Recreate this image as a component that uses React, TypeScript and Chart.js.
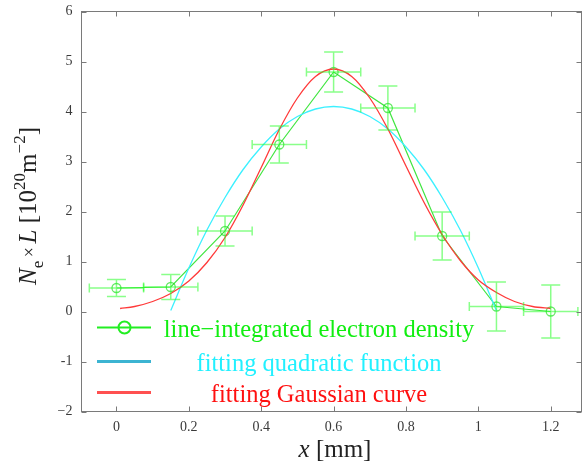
import React, { useEffect, useRef } from "react";
import { Chart, registerables } from "chart.js";
Chart.register(...registerables);

// measured data (line-integrated electron density)
const xData = [0, 0.15, 0.3, 0.45, 0.6, 0.75, 0.9, 1.05, 1.2];
const yData = [0.47, 0.49, 1.61, 3.34, 4.79, 4.07, 1.51, 0.1, 0.0];
const yErr = [0.17, 0.25, 0.3, 0.37, 0.4, 0.44, 0.48, 0.49, 0.53];
const xErr = [0.075, 0.075, 0.075, 0.075, 0.075, 0.075, 0.075, 0.075, 0.075];

// fitting quadratic function
const quadX = [0.15, 0.2, 0.25, 0.3, 0.35, 0.4, 0.45, 0.5, 0.55, 0.6, 0.65, 0.7, 0.75, 0.8, 0.85, 0.9, 0.95, 1.0, 1.05];
const quadY = [0.02, 0.87, 1.63, 2.28, 2.84, 3.29, 3.65, 3.9, 4.05, 4.1, 4.05, 3.9, 3.65, 3.29, 2.84, 2.28, 1.63, 0.87, 0.02];

// fitting Gaussian curve
const gaussX = [0.01, 0.05, 0.1, 0.15, 0.2, 0.25, 0.3, 0.35, 0.4, 0.45, 0.5, 0.55, 0.6, 0.65, 0.7, 0.75, 0.8, 0.85, 0.9, 0.95, 1.0, 1.05, 1.1, 1.15, 1.2];
const gaussY = [0.06, 0.1, 0.2, 0.36, 0.61, 0.98, 1.48, 2.13, 2.88, 3.64, 4.27, 4.7, 4.85, 4.7, 4.27, 3.65, 2.91, 2.18, 1.54, 1.02, 0.63, 0.38, 0.2, 0.1, 0.06];

const xTicks = [0, 0.2, 0.4, 0.6, 0.8, 1, 1.2];
const xTickLabels = ["0", "0.2", "0.4", "0.6", "0.8", "1", "1.2"];
const yTicks = [-2, -1, 0, 1, 2, 3, 4, 5, 6];
const yTickLabels = ["\u22122", "-1", "0", "1", "2", "3", "4", "5", "6"];

const legendLabels = ["line\u2212integrated electron density", "fitting quadratic function", "fitting Gaussian curve"];

const SERIF = "'Liberation Serif', 'Times New Roman', serif";

type Seg = { t: string; f: string; dy: number };
function drawRich(ctx: CanvasRenderingContext2D, segs: Seg[], cx: number, cy: number) {
  let w = 0;
  for (const s of segs) {
    ctx.font = s.f;
    w += ctx.measureText(s.t).width;
  }
  let x = cx - w / 2;
  for (const s of segs) {
    ctx.font = s.f;
    ctx.fillText(s.t, x, cy + s.dy);
    x += ctx.measureText(s.t).width;
  }
}

const decorPlugin = {
  id: "decor",
  afterDatasetsDraw(chart: any) {
    const { ctx, scales } = chart;
    const xs = scales.x;
    const ys = scales.y;
    ctx.save();
    ctx.strokeStyle = "rgba(40,255,40,0.55)";
    ctx.lineWidth = 1.5;
    for (let i = 0; i < xData.length; i++) {
      const px = xs.getPixelForValue(xData[i]);
      const py = ys.getPixelForValue(yData[i]);
      const top = ys.getPixelForValue(yData[i] + yErr[i]);
      const bot = ys.getPixelForValue(yData[i] - yErr[i]);
      const l = xs.getPixelForValue(xData[i] - xErr[i]);
      const r = xs.getPixelForValue(xData[i] + xErr[i]);
      ctx.beginPath();
      ctx.moveTo(px, top); ctx.lineTo(px, bot);
      ctx.moveTo(px - 9.5, top); ctx.lineTo(px + 9.5, top);
      ctx.moveTo(px - 9.5, bot); ctx.lineTo(px + 9.5, bot);
      ctx.moveTo(l, py); ctx.lineTo(r, py);
      ctx.moveTo(l, py - 4.5); ctx.lineTo(l, py + 4.5);
      ctx.moveTo(r, py - 4.5); ctx.lineTo(r, py + 4.5);
      ctx.stroke();
    }
    ctx.restore();
  },
  afterDraw(chart: any) {
    const { ctx, chartArea: a, scales } = chart;
    const xs = scales.x;
    const ys = scales.y;
    ctx.save();
    // frame
    ctx.strokeStyle = "#7a7a7a";
    ctx.lineWidth = 1;
    ctx.strokeRect(a.left, a.top, a.right - a.left, a.bottom - a.top);
    ctx.beginPath();
    for (const v of xTicks) {
      const p = Math.round(xs.getPixelForValue(v)) + 0.5;
      ctx.moveTo(p, a.bottom); ctx.lineTo(p, a.bottom - 5);
      ctx.moveTo(p, a.top); ctx.lineTo(p, a.top + 5);
    }
    for (const v of yTicks) {
      const p = Math.round(ys.getPixelForValue(v)) + 0.5;
      ctx.moveTo(a.left, p); ctx.lineTo(a.left + 5, p);
      ctx.moveTo(a.right, p); ctx.lineTo(a.right - 5, p);
    }
    ctx.stroke();

    // legend
    const lx0 = 97, lx1 = 151;
    const rows = [327.5, 361.5, 392.5];
    const lineCols = ["#22ee22", "#3cb4d2", "#ff5050"];
    const txtCols = ["#11ee11", "#22f0ff", "#ff1010"];
    for (let i = 0; i < 3; i++) {
      ctx.strokeStyle = lineCols[i];
      ctx.lineWidth = i === 0 ? 2 : 3;
      ctx.beginPath();
      ctx.moveTo(lx0, rows[i]); ctx.lineTo(lx1, rows[i]);
      ctx.stroke();
      if (i === 0) {
        ctx.beginPath();
        ctx.arc(124.5, rows[i], 6, 0, Math.PI * 2);
        ctx.stroke();
      }
      ctx.fillStyle = txtCols[i];
      ctx.font = `24.5px ${SERIF}`;
      ctx.textAlign = "center";
      ctx.textBaseline = "alphabetic";
      ctx.fillText(legendLabels[i], 319, rows[i] + 9);
    }

    // axis titles
    ctx.fillStyle = "#222";
    ctx.textAlign = "left";
    ctx.textBaseline = "alphabetic";
    drawRich(ctx, [
      { t: "x", f: `italic 25px ${SERIF}`, dy: 0 },
      { t: " [mm]", f: `25px ${SERIF}`, dy: 0 },
    ], 335, 457);

    ctx.translate(36, 206);
    ctx.rotate(-Math.PI / 2);
    drawRich(ctx, [
      { t: "N", f: `italic 25px ${SERIF}`, dy: 0 },
      { t: "e", f: `17px ${SERIF}`, dy: 7 },
      { t: "\u2009\u00d7\u2009", f: `18px ${SERIF}`, dy: -1 },
      { t: "L", f: `italic 25px ${SERIF}`, dy: 0 },
      { t: " [10", f: `25px ${SERIF}`, dy: 0 },
      { t: "20", f: `17px ${SERIF}`, dy: -11 },
      { t: "m", f: `25px ${SERIF}`, dy: 0 },
      { t: "\u22122", f: `17px ${SERIF}`, dy: -11 },
      { t: "]", f: `25px ${SERIF}`, dy: 0 },
    ], 0, 0);
    ctx.restore();
  },
};

export default function App() {
  const ref = useRef<HTMLCanvasElement>(null);
  useEffect(() => {
    document.body.style.margin = "0";
    document.body.style.overflow = "hidden";
    const chart = new Chart(ref.current as HTMLCanvasElement, {
      type: "line",
      data: {
        datasets: [
          {
            label: legendLabels[2],
            data: gaussX.map((x, i) => ({ x, y: gaussY[i] })),
            borderColor: "#ff3a3a",
            borderWidth: 1.3,
            pointRadius: 0,
            cubicInterpolationMode: "monotone",
            fill: false,
          },
          {
            label: legendLabels[1],
            data: quadX.map((x, i) => ({ x, y: quadY[i] })),
            borderColor: "rgb(60,240,255)",
            borderWidth: 1.3,
            pointRadius: 0,
            cubicInterpolationMode: "monotone",
            fill: false,
          },
          {
            label: legendLabels[0],
            data: xData.map((x, i) => ({ x, y: yData[i] })),
            borderColor: "rgba(30,225,30,0.85)",
            borderWidth: 1.2,
            pointRadius: 4.5,
            pointStyle: "circle",
            pointBorderColor: "rgba(20,220,20,0.65)",
            pointBackgroundColor: "rgba(0,0,0,0)",
            pointBorderWidth: 1.3,
            tension: 0,
            fill: false,
          },
        ],
      },
      options: {
        animation: false,
        responsive: false,
        devicePixelRatio: 1,
        layout: { autoPadding: false, padding: { left: 0, right: 1.5, top: 11.5, bottom: 0 } },
        plugins: { legend: { display: false }, tooltip: { enabled: false } },
        scales: {
          x: {
            type: "linear",
            min: -0.0966,
            max: 1.285,
            grid: { display: false, drawTicks: false, tickLength: 0 },
            border: { display: false },
            afterBuildTicks: (s: any) => { s.ticks = xTicks.map((v) => ({ value: v })); },
            afterFit: (s: any) => { s.height = 51.5; s.paddingLeft = 0; s.paddingRight = 0; },
            ticks: {
              padding: 7,
              maxRotation: 0,
              autoSkip: false,
              color: "#3a3a3a",
              font: { family: SERIF, size: 14 },
              callback: (_v: any, i: number) => xTickLabels[i],
            },
          },
          y: {
            type: "linear",
            min: -2,
            max: 6,
            grid: { display: false, drawTicks: false, tickLength: 0 },
            border: { display: false },
            afterBuildTicks: (s: any) => { s.ticks = yTicks.map((v) => ({ value: v })); },
            afterFit: (s: any) => { s.width = 81.5; s.paddingTop = 0; s.paddingBottom = 0; },
            ticks: {
              padding: 9,
              autoSkip: false,
              color: "#3a3a3a",
              font: { family: SERIF, size: 14 },
              callback: (_v: any, i: number) => yTickLabels[i],
            },
          },
        },
      },
      plugins: [decorPlugin],
    } as any);
    return () => chart.destroy();
  }, []);
  return (
    <div style={{ position: "absolute", left: 0, top: 0, width: 583, height: 463 }}>
      <canvas ref={ref} width={583} height={463} style={{ display: "block", width: 583, height: 463 }} />
    </div>
  );
}
